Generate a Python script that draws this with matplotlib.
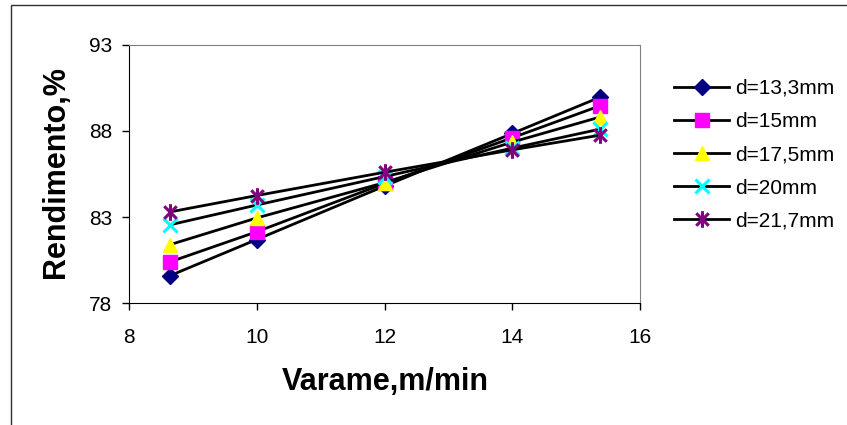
import numpy as np
import matplotlib
matplotlib.use("Agg")
import matplotlib.pyplot as plt
from matplotlib.path import Path
from matplotlib.patches import Rectangle

# wire speed (m/min) and yield (%) for each wire diameter
speed = [8.64, 10, 12, 14, 15.37]
y_133 = [79.6, 81.7, 84.8, 87.85, 89.95]
y_15 = [80.4, 82.15, 84.95, 87.6, 89.45]
y_175 = [81.4, 82.95, 85.0, 87.35, 88.8]
y_20 = [82.55, 83.7, 85.35, 87.0, 88.1]
y_217 = [83.3, 84.25, 85.6, 86.9, 87.75]
labels = ["d=13,3mm", "d=15mm", "d=17,5mm", "d=20mm", "d=21,7mm"]
yticks = [78, 83, 88, 93]
xticks = [8, 10, 12, 14, 16]

plt.rcParams['font.family'] = ['Liberation Sans', 'DejaVu Sans']

# asterisk like the spreadsheet one: x plus a vertical bar
star = Path([(0, -1), (0, 1), (-0.75, -0.75), (0.75, 0.75), (-0.75, 0.75), (0.75, -0.75)],
            [Path.MOVETO, Path.LINETO, Path.MOVETO, Path.LINETO, Path.MOVETO, Path.LINETO])

fig = plt.figure(figsize=(8.47, 4.25), dpi=100)
ax = fig.add_axes([129/847, 1 - 303.3/425, (640-129)/847, (303.3-44.7)/425])

lw = 2
ax.plot(speed, y_133, color='black', lw=lw, marker='D', ms=8.5, mfc='#000080', mec='#000080', label=labels[0])
ax.plot(speed, y_15, color='black', lw=lw, marker='s', ms=10, mfc='#FF00FF', mec='#FF00FF', label=labels[1])
ax.plot(speed, y_175, color='black', lw=lw, marker='^', ms=10.5, mfc='#FFFF00', mec='#FFFF00', label=labels[2])
ax.plot(speed, y_20, color='black', lw=lw, marker='x', ms=10, mew=2.2, mfc='#00FFFF', mec='#00FFFF', label=labels[3])
ax.plot(speed, y_217, color='black', lw=lw, marker=star, ms=12, mew=2.2, mfc='#800080', mec='#800080', label=labels[4])

ax.set_xlim(8, 16)
ax.set_ylim(78, 93)
ax.set_xticks(xticks)
ax.set_yticks(yticks)
ax.tick_params(direction='out', length=5, width=1, labelsize=15, colors='black')
ax.tick_params(axis='x', pad=13)
ax.tick_params(axis='y', pad=7)
for s in ['top', 'right']:
    ax.spines[s].set_color('#808080')
for s in ['left', 'bottom']:
    ax.spines[s].set_color('black')

fig.text(56/847, 1 - 172/425, "Rendimento,%", rotation=90, fontsize=22, fontweight='bold',
         ha='center', va='center')
fig.text(385/847, 1 - 382/425, "Varame,m/min", fontsize=22, fontweight='bold',
         ha='center', va='center')

ax.legend(loc='upper left', bbox_to_anchor=(674/847, 1 - 79/425), bbox_transform=fig.transFigure,
          frameon=False, fontsize=15, handlelength=2.65, handletextpad=0.3,
          labelspacing=0.68, borderpad=0, borderaxespad=0)

# outer chart border (cut off at right and bottom)
fig.patches.append(Rectangle((11/847, -0.1), 1.2, 1 - 5/425 + 0.1, transform=fig.transFigure,
                             fill=False, edgecolor='#303030', lw=1, clip_on=False))

fig.savefig("out.png", dpi=100)
